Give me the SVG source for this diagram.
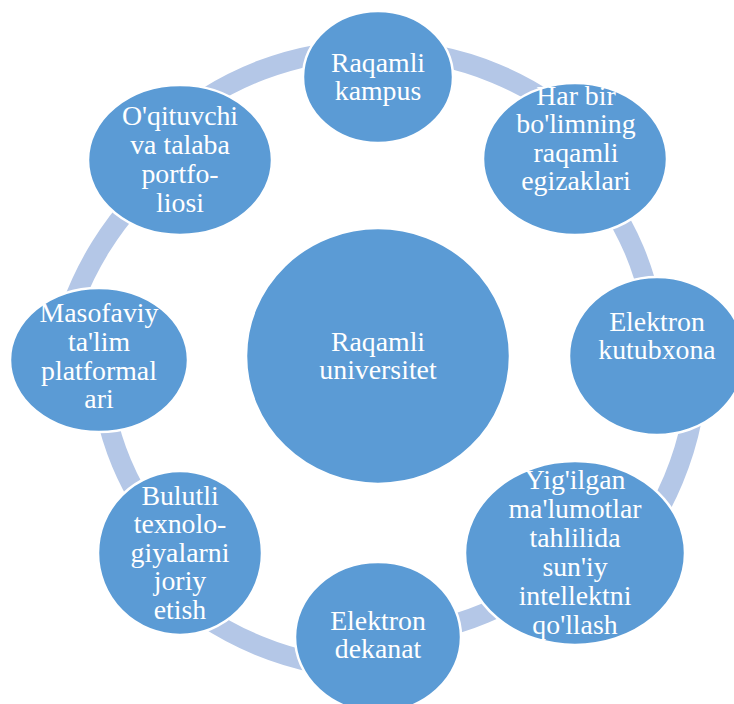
<svg xmlns="http://www.w3.org/2000/svg" width="734" height="704" viewBox="0 0 734 704">
<style>
.node{fill:#5B9BD5;stroke:#FFFFFF;stroke-width:2.5}
.ring{fill:none;stroke:#B4C7E7;stroke-width:20}
.t{font-family:"Liberation Serif","Times New Roman",serif;font-size:27.8px;fill:#FFFFFF;text-anchor:middle}
</style>
<rect width="734" height="704" fill="#FFFFFF"/>
<g id="connectors">
<path class="ring" d="M 378 50 A 307 307 0 0 0 162 132"/>
<path class="ring" d="M 180 160 A 320 320 0 0 0 58 357"/>
<path class="ring" d="M 378 50 A 307 307 0 0 1 595 140"/>
<path class="ring" d="M 573 160 A 278 278 0 0 1 656 357"/>
<path class="ring" d="M 698 357 A 320 320 0 0 1 604 583"/>
<path class="ring" d="M 574 553 A 278 278 0 0 1 378 635"/>
<path class="ring" d="M 378 669 A 312 312 0 0 1 157 578"/>
<path class="ring" d="M 182 553 A 278 278 0 0 1 100 357"/>
</g>
<g id="center"><ellipse class="node" cx="378" cy="356" rx="132" ry="128"/><text class="t" x="378" y="351">Raqamli</text><text class="t" x="378" y="379">universitet</text></g>
<g id="n1"><ellipse class="node" cx="378" cy="77" rx="75" ry="66"/><text class="t" x="378" y="72">Raqamli</text><text class="t" x="378" y="100">kampus</text></g>
<g id="n2"><ellipse class="node" cx="575" cy="159" rx="92" ry="76"/><text class="t" x="576" y="105">Har bir</text><text class="t" x="576" y="133">bo'limning</text><text class="t" x="576" y="162">raqamli</text><text class="t" x="576" y="190">egizaklari</text></g>
<g id="n3"><ellipse class="node" cx="657" cy="356" rx="88" ry="79"/><text class="t" x="657" y="331">Elektron</text><text class="t" x="657" y="359">kutubxona</text></g>
<g id="n4"><ellipse class="node" cx="575" cy="553" rx="110" ry="92"/><text class="t" x="575" y="489">Yig'ilgan</text><text class="t" x="575" y="518">ma'lumotlar</text><text class="t" x="575" y="547">tahlilida</text><text class="t" x="575" y="576">sun'iy</text><text class="t" x="575" y="605">intellektni</text><text class="t" x="575" y="634">qo'llash</text></g>
<g id="n5"><ellipse class="node" cx="378" cy="637" rx="83" ry="75"/><text class="t" x="378" y="630">Elektron</text><text class="t" x="378" y="658">dekanat</text></g>
<g id="n6"><ellipse class="node" cx="180" cy="553" rx="82" ry="82"/><text class="t" x="180" y="505">Bulutli</text><text class="t" x="180" y="533">texnolo-</text><text class="t" x="180" y="562">giyalarni</text><text class="t" x="180" y="590">joriy</text><text class="t" x="180" y="619">etish</text></g>
<g id="n7"><ellipse class="node" cx="99" cy="360" rx="89" ry="72"/><text class="t" x="99" y="322">Masofaviy</text><text class="t" x="99" y="351">ta'lim</text><text class="t" x="99" y="380">platformal</text><text class="t" x="99" y="408">ari</text></g>
<g id="n8"><ellipse class="node" cx="180" cy="160" rx="92" ry="75"/><text class="t" x="180" y="125">O'qituvchi</text><text class="t" x="180" y="154">va talaba</text><text class="t" x="180" y="183">portfo-</text><text class="t" x="180" y="212">liosi</text></g>
</svg>
